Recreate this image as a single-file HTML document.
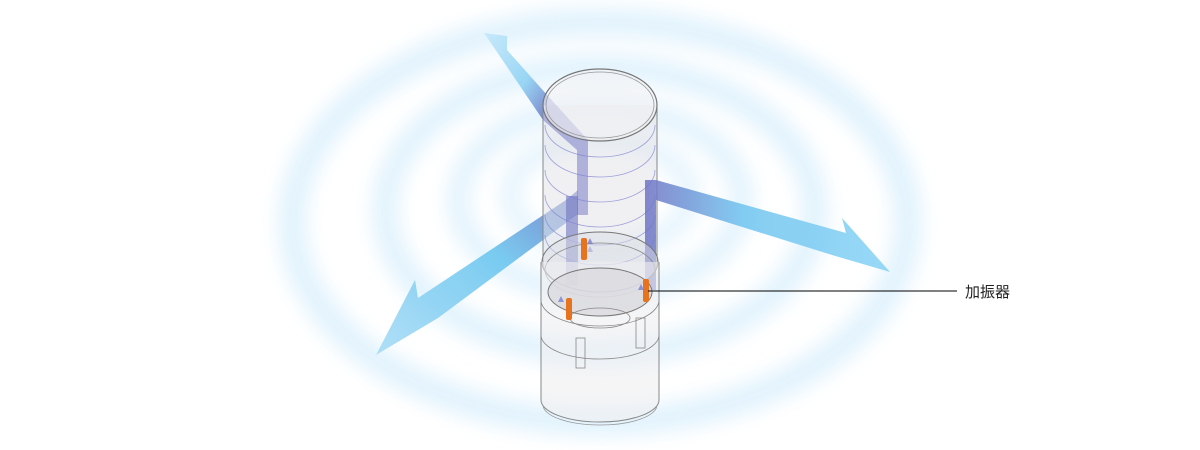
<!DOCTYPE html>
<html><head><meta charset="utf-8"><style>
html,body{margin:0;padding:0;background:#fff;width:1200px;height:450px;overflow:hidden}
svg{display:block}
</style></head><body>
<svg width="1200" height="450" viewBox="0 0 1200 450">
<defs>
<filter id="b" x="-20%" y="-20%" width="140%" height="140%"><feGaussianBlur stdDeviation="10"/></filter>
<linearGradient id="ga" x1="0" y1="1" x2="1" y2="0"><stop offset="0" stop-color="#a9dcf6"/><stop offset="0.6" stop-color="#6cc6ef"/><stop offset="1" stop-color="#6f79c6"/></linearGradient>
<linearGradient id="gr" x1="0" y1="0" x2="1" y2="0"><stop offset="0" stop-color="#7073c4"/><stop offset="0.4" stop-color="#6fc4ef"/><stop offset="1" stop-color="#86d2f5"/></linearGradient>
<linearGradient id="gt" x1="0" y1="0" x2="1" y2="1"><stop offset="0" stop-color="#c4e8fa"/><stop offset="0.6" stop-color="#8fd2f3"/><stop offset="1" stop-color="#6b74c2"/></linearGradient>
</defs>
<!-- rings -->
<g filter="url(#b)" fill="none" stroke="#d9effc" opacity="0.85">
<ellipse cx="600" cy="222" rx="308" ry="200" stroke-width="26"/>
<ellipse cx="600" cy="210" rx="215" ry="143" stroke-width="24"/>
<ellipse cx="600" cy="200" rx="142" ry="93" stroke-width="20"/>
<ellipse cx="600" cy="195" rx="90" ry="56" stroke-width="16"/>
</g>
<!-- left arrow -->
<polygon points="578,190 578,214 438,318 376,355 415,280 418,298 566,200" fill="url(#ga)" opacity="0.9"/>
<!-- top arrow outside part -->
<polygon points="484,33 507,36 507,50 548,96 543,120 497,52" fill="url(#gt)" opacity="0.9"/>
<!-- cylinder body -->
<path d="M543,105 L543,262 A57,30 0 0 0 657,262 L657,105" fill="#e4e4e8" fill-opacity="0.55" stroke="#888" stroke-width="1"/>
<!-- arrow parts inside cylinder -->
<polygon points="543,120 548,96 588,140 588,215 577,215 577,150" fill="#7a7ec6" opacity="0.55"/>
<rect x="566" y="196" width="12" height="90" fill="#6f74c2" opacity="0.6"/>
<ellipse cx="600" cy="105" rx="57" ry="36" fill="#f1f1f3" fill-opacity="0.6" stroke="#777" stroke-width="1.2"/>
<ellipse cx="600" cy="105" rx="54" ry="33" fill="none" stroke="#999" stroke-width="0.8"/>
<g fill="none" stroke="#7b7fcf" stroke-width="0.8" opacity="0.7">
<path d="M545,125 A55,32 0 0 0 655,125"/><path d="M545,145 A55,32 0 0 0 655,145"/>
<path d="M545,170 A55,32 0 0 0 655,170"/><path d="M545,195 A55,32 0 0 0 655,195"/>
<path d="M545,215 A55,30 0 0 0 655,215"/><path d="M545,235 A55,30 0 0 0 655,235"/>
</g>
<!-- right arrow -->
<polygon points="645,180 656,180 846,233 842,218 890,272 832,255 656,200 656,290 645,290" fill="url(#gr)" opacity="0.85"/>
<!-- ring base -->
<ellipse cx="600" cy="262" rx="58" ry="30" fill="#dcdde3" fill-opacity="0.5" stroke="#777" stroke-width="1"/>
<ellipse cx="600" cy="270" rx="55" ry="27" fill="none" stroke="#888" stroke-width="0.8"/>
<!-- lower body -->
<path d="M541,262 L541,400 A59,22 0 0 0 659,400 L659,262" fill="#eeeef0" fill-opacity="0.6" stroke="#888" stroke-width="1"/>
<path d="M541,335 A59,24 0 0 0 659,335" fill="none" stroke="#888" stroke-width="0.8"/>
<path d="M541,300 A59,26 0 0 0 659,300" fill="none" stroke="#888" stroke-width="0.8"/>
<ellipse cx="600" cy="292" rx="52" ry="24" fill="#d9dade" fill-opacity="0.8" stroke="#777" stroke-width="1"/>
<ellipse cx="600" cy="318" rx="30" ry="10" fill="none" stroke="#888" stroke-width="0.8"/>
<rect x="576" y="338" width="9" height="30" fill="none" stroke="#888" stroke-width="0.8"/>
<rect x="636" y="318" width="9" height="30" fill="none" stroke="#888" stroke-width="0.8"/>
<path d="M543,405 A57,20 0 0 0 657,405" fill="none" stroke="#999" stroke-width="0.8"/>
<!-- vibrators -->
<rect x="581" y="238" width="6" height="22" rx="2" fill="#e8731f"/>
<rect x="566" y="298" width="6" height="22" rx="2" fill="#e8731f"/>
<rect x="643" y="279" width="6" height="23" rx="2" fill="#e8731f"/>
<g fill="#7b7fcf" opacity="0.8">
<polygon points="590,238 593,244 587,244"/><polygon points="590,246 593,252 587,252" opacity="0.5"/>
<polygon points="641,284 644,290 638,290"/><polygon points="561,296 564,302 558,302"/>
</g>
<!-- label -->
<line x1="648" y1="291" x2="957" y2="291" stroke="#000" stroke-width="1"/>
<text x="965" y="297" font-family="'Liberation Sans','Noto Sans CJK JP',sans-serif" font-size="15" fill="#222">加振器</text>
</svg>
</body></html>
